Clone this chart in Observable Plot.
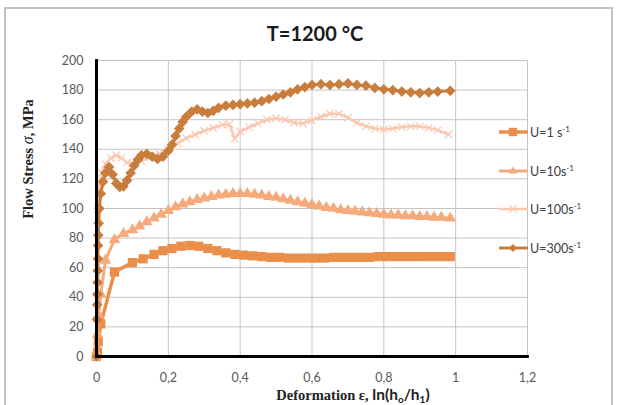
<!DOCTYPE html>
<html><head><meta charset="utf-8">
<script src="https://cdn.jsdelivr.net/npm/d3@7"></script>
<script src="https://cdn.jsdelivr.net/npm/@observablehq/plot@0.6"></script>
<style>
html,body{margin:0;padding:0;background:#fff;}
#chart{position:relative;width:618px;height:405px;overflow:hidden;}
</style></head><body><div id="chart"></div>
<script>
// ---- data ----
const u1Eps    = [0,0.003,0.005,0.012,0.05,0.1,0.13,0.16,0.185,0.21,0.235,0.26,0.285,0.31,0.335,0.36,0.385,0.41,0.435,0.46,0.485,0.51,0.535,0.56,0.585,0.61,0.635,0.66,0.685,0.71,0.735,0.76,0.785,0.81,0.835,0.86,0.885,0.91,0.935,0.96,0.985];
const u1Stress = [0,3,10,22,57,63.5,66,69,71.5,73,74.5,75,74.5,73,71.5,70,69,68.5,68,67.5,67,67,66.5,66.5,66.5,66.5,66.5,67,67,67,67,67,67.5,67.5,67.5,67.5,67.5,67.5,67.5,67.5,67.5];

const u10Eps    = [0,0.003,0.006,0.012,0.025,0.05,0.075,0.1,0.12,0.14,0.16,0.18,0.2,0.22,0.24,0.26,0.28,0.3,0.32,0.34,0.36,0.38,0.4,0.42,0.44,0.46,0.48,0.5,0.52,0.54,0.56,0.58,0.6,0.62,0.64,0.66,0.68,0.7,0.72,0.74,0.76,0.78,0.8,0.82,0.84,0.86,0.88,0.9,0.92,0.94,0.96,0.985];
const u10Stress = [0,15,28,42,65,79,83,85.5,88,91,93.5,96,98.5,101,103,104.5,106,107,108,109,109.5,110,110,110,109.5,109,108,107.5,106.5,105.5,104.5,103.5,102.5,101.5,100.5,100,99,98.5,98,97.5,97,96.5,96,95.5,95.5,95,95,94.5,94.5,94,94,93.5];

const u100Eps    = [0,0.002,0.004,0.008,0.015,0.025,0.04,0.055,0.07,0.085,0.1,0.125,0.15,0.175,0.2,0.225,0.25,0.275,0.3,0.325,0.35,0.37,0.385,0.4,0.425,0.45,0.475,0.5,0.525,0.55,0.575,0.6,0.625,0.65,0.675,0.7,0.725,0.75,0.775,0.8,0.825,0.85,0.875,0.9,0.925,0.95,0.98];
const u100Stress = [0,60,100,115,124,130,134,136,134,131,130.5,132,134.5,137,140,144,147.5,150,152.5,154.5,156.5,157,147,152,155,157.5,160,161,160,158,157.5,159.5,162,164,164,161.5,158,155.5,154,153.5,154,155,155.5,155.5,154.5,153,150];

const u300Eps    = [0,0.001,0.002,0.0025,0.003,0.0035,0.004,0.0045,0.005,0.006,0.008,0.012,0.018,0.025,0.035,0.045,0.055,0.065,0.075,0.085,0.095,0.105,0.115,0.125,0.14,0.155,0.17,0.185,0.2,0.21,0.22,0.23,0.24,0.25,0.265,0.28,0.295,0.31,0.325,0.34,0.36,0.38,0.4,0.42,0.44,0.46,0.48,0.5,0.52,0.54,0.56,0.58,0.6,0.625,0.65,0.675,0.7,0.725,0.75,0.775,0.8,0.825,0.85,0.875,0.9,0.925,0.95,0.985];
const u300Stress = [0,25,35,42,50,58,66,75,82,90,100,110,118,124,128,123,117,114.5,115,119,124,129,133,136,137,135,133.5,135,139,143,149,154,158.5,162,165.5,167,165.5,164.5,166,168,169.5,170,170.5,171,171.5,172.5,174,175.5,177,178.5,180.5,182,183.5,184,183.5,184,184.5,183.5,183,181.5,180.5,180,179,178.5,178,178.5,179,179.5];

const seriesLabels = ["U=1 s", "U=10s", "U=100s", "U=300s"];
const seriesColors = ["#E98F4A", "#F6AA7B", "#FAC8B1", "#C97D3C"];
const seriesSymbols = ["square", "triangle", "times", "diamond2"];
const xTicks = [0, 0.2, 0.4, 0.6, 0.8, 1, 1.2];
const yTicks = [0, 20, 40, 60, 80, 100, 120, 140, 160, 180, 200];
const titleText = "T=1200 °C";

// ---- build table ----
const epsList = [u1Eps, u10Eps, u100Eps, u300Eps];
const stressList = [u1Stress, u10Stress, u100Stress, u300Stress];
const series = seriesLabels.map((label, i) => ({
  label, color: seriesColors[i], symbol: seriesSymbols[i],
  rows: epsList[i].map((e, j) => ({eps: e, stress: stressList[i][j]}))
}));

const lineWidths = [3.5, 3, 2.5, 3];
const dotR = [5.2, 4.3, 3.5, 4.8];

const marks = [
  Plot.ruleX(xTicks, {stroke: "#c4c4c4", strokeWidth: 1}),
  Plot.ruleY(yTicks, {stroke: "#c4c4c4", strokeWidth: 1})
];
series.forEach((s, i) => {
  marks.push(Plot.line(s.rows, {x: "eps", y: "stress", stroke: s.color, strokeWidth: lineWidths[i]}));
  if (s.symbol === "times") {
    marks.push(Plot.dot(s.rows, {x: "eps", y: "stress", symbol: "times", r: dotR[i], stroke: s.color, strokeWidth: 1.2}));
  } else {
    marks.push(Plot.dot(s.rows, {x: "eps", y: "stress", symbol: s.symbol, r: dotR[i], fill: s.color, stroke: "none"}));
  }
});
marks.push(
  Plot.ruleX([0], {stroke: "#000", strokeWidth: 3}),
  Plot.ruleY([0], {stroke: "#000", strokeWidth: 3}),
  Plot.dot(yTicks, {x: 0, y: d => d, symbol: "square", r: 1.6, fill: "#000"}),
  Plot.dot(xTicks, {x: d => d, y: 0, symbol: "square", r: 1.6, fill: "#000"}),
  Plot.axisY(yTicks, {tickSize: 0, tickPadding: 13, label: null, fill: "#595959", fontSize: 12.5}),
  Plot.axisX(xTicks, {tickSize: 0, tickPadding: 17, label: null, fill: "#595959", fontSize: 12.5,
    tickFormat: d => String(d).replace(".", ",")})
);

const chart = Plot.plot({
  width: 618, height: 405,
  marginLeft: 96, marginRight: 91, marginTop: 60, marginBottom: 49,
  x: {domain: [0, 1.2]},
  y: {domain: [0, 200]},
  style: {fontFamily: "Lato, 'Open Sans', sans-serif", fontSize: "12.5px", background: "#fff"},
  marks
});
document.getElementById("chart").appendChild(chart);

// ---- decorations: frame, title, axis titles, legend ----
const svg = d3.select(chart);
svg.insert("path", ":first-child")
  .attr("d", "M5,410V8H612V410").attr("fill", "none").attr("stroke", "#c3c3c3").attr("stroke-width", 2);

svg.append("text").attr("x", 315).attr("y", 41).attr("text-anchor", "middle")
  .attr("font-family", "Lato, sans-serif").attr("font-weight", "bold").attr("font-size", 20).attr("fill", "#1a1a1a")
  .text(titleText);

const yt = svg.append("text").attr("transform", "translate(33,159) rotate(-90)").attr("text-anchor", "middle")
  .attr("font-family", "'Liberation Serif', serif").attr("font-weight", "bold").attr("font-size", 14.5).attr("fill", "#222");
yt.append("tspan").text("Flow Stress ");
yt.append("tspan").attr("font-style", "italic").attr("font-weight", "normal").attr("font-size", 16).text("σ");
yt.append("tspan").text(", MPa");

const xt = svg.append("text").attr("x", 353).attr("y", 400).attr("text-anchor", "middle")
  .attr("font-weight", "bold").attr("fill", "#222");
xt.append("tspan").attr("font-family", "'Liberation Serif', serif").attr("font-size", 14.5).text("Deformation ε, ");
xt.append("tspan").attr("font-family", "Lato, sans-serif").attr("font-size", 15.5).text("ln(h");
xt.append("tspan").attr("font-family", "Lato, sans-serif").attr("font-size", 10).attr("dy", 3).text("o");
xt.append("tspan").attr("font-family", "Lato, sans-serif").attr("font-size", 15.5).attr("dy", -3).text("/h");
xt.append("tspan").attr("font-family", "Lato, sans-serif").attr("font-size", 10).attr("dy", 3).text("1");
xt.append("tspan").attr("font-family", "Lato, sans-serif").attr("font-size", 15.5).attr("dy", -3).text(")");

const legendY = [132, 171, 209, 248];
const symMap = {square: d3.symbolSquare, triangle: d3.symbolTriangle2, times: d3.symbolTimes, diamond2: d3.symbolDiamond2};
const symSize = [70, 50, 40, 40];
series.forEach((s, i) => {
  const g = svg.append("g").attr("transform", `translate(0,${legendY[i]})`);
  g.append("line").attr("x1", 499).attr("x2", 528).attr("y1", 0).attr("y2", 0)
    .attr("stroke", s.color).attr("stroke-width", lineWidths[i]);
  const p = g.append("path").attr("transform", "translate(513,0)")
    .attr("d", d3.symbol(symMap[s.symbol], symSize[i])());
  if (s.symbol === "times") p.attr("fill", "none").attr("stroke", s.color).attr("stroke-width", 1.2);
  else p.attr("fill", s.color);
  const t = g.append("text").attr("x", 530).attr("y", 4.5).attr("text-anchor", "start")
    .attr("font-family", "Lato, sans-serif").attr("font-size", 12.5).attr("fill", "#404040");
  t.append("tspan").text(s.label);
  t.append("tspan").attr("font-size", 8).attr("dy", -5).text("-1");
});
</script>
</body></html>
